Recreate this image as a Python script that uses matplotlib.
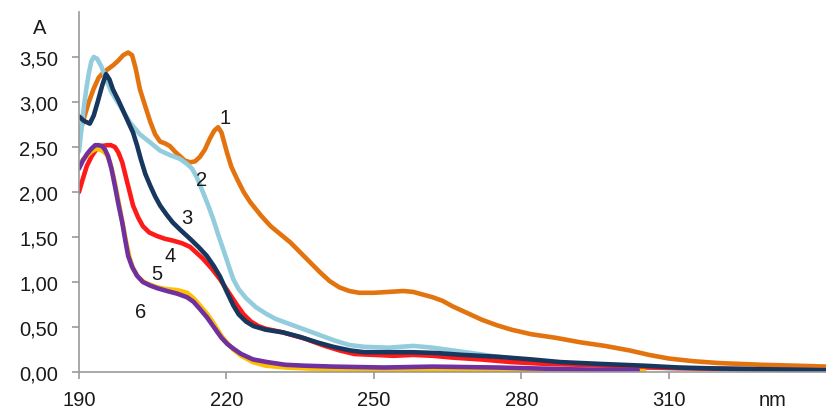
import matplotlib
matplotlib.use("Agg")
from matplotlib import pyplot as plt

# UV spectra, wavelength (nm) vs absorbance
nm1 = [190, 191, 192, 193, 194, 195, 196, 197, 198, 199, 200, 200.8, 201.5, 202.4, 203.5,
       204.5, 205.5, 206.5, 207.5, 208.5, 209.5, 210.5, 211.5, 212.6, 213.6, 214.6, 215.6,
       216.6, 217.5, 218.3, 219, 220.1, 221, 222.2, 223.5, 224.8, 227, 229, 231, 233, 235,
       237, 239, 241, 243, 245, 247, 250, 253, 256, 258, 260, 262, 264, 266, 268, 270, 272,
       275, 278, 282, 287, 292, 297, 302, 306, 310, 315, 320, 329, 336, 342]
a1 = [2.62, 2.82, 3.0, 3.15, 3.27, 3.33, 3.37, 3.41, 3.46, 3.52, 3.55, 3.52, 3.38, 3.14, 2.95,
      2.78, 2.64, 2.56, 2.54, 2.51, 2.45, 2.40, 2.35, 2.33, 2.34, 2.39, 2.47,
      2.59, 2.68, 2.72, 2.66, 2.44, 2.28, 2.14, 2.0, 1.89, 1.74, 1.62, 1.53, 1.44, 1.33,
      1.22, 1.11, 1.01, 0.94, 0.90, 0.88, 0.88, 0.89, 0.90, 0.89, 0.86, 0.83, 0.79, 0.73,
      0.68, 0.63, 0.58, 0.52, 0.47, 0.42, 0.38, 0.33, 0.29, 0.24, 0.19, 0.15, 0.12, 0.10,
      0.08, 0.07, 0.06]

nm2 = [190, 190.5, 191, 191.5, 192, 192.5, 193, 193.7, 194.5, 195.5, 196.5, 198.3, 200.4,
       202.4, 204.5, 206.5, 208.5, 210.5, 212, 213, 214, 215.2, 216.3, 217.3, 218.3, 219.3,
       220.4, 221.4, 222.5, 224, 226, 228, 230, 233, 236, 239, 242, 245, 248, 253, 258, 262,
       266, 270, 275, 280, 285, 292, 298, 305, 312, 325, 342]
a2 = [2.45, 2.7, 2.95, 3.15, 3.32, 3.45, 3.50, 3.48, 3.40, 3.26, 3.12, 2.96, 2.77,
      2.64, 2.55, 2.46, 2.41, 2.37, 2.31, 2.26, 2.16, 2.0, 1.85, 1.70, 1.53, 1.37,
      1.19, 1.03, 0.92, 0.82, 0.72, 0.65, 0.59, 0.53, 0.47, 0.41, 0.35, 0.30, 0.28, 0.27,
      0.29, 0.27, 0.24, 0.21, 0.17, 0.14, 0.11, 0.09, 0.07, 0.05, 0.04, 0.03, 0.02]

nm3 = [190, 191, 192.2, 193, 193.8, 194.7, 195.5, 196.2, 196.9, 198, 199, 200, 201, 201.8,
       202.6, 203.5, 204.5, 205.5, 206.5, 207.8, 209.1, 210.8, 212.6, 214.3, 216, 217.4,
       218.7, 220, 221.4, 222.5, 224, 225.5, 228, 231.5, 235, 238.4, 241.7, 245.1, 248, 252,
       258, 263, 268, 275, 282, 288, 296, 305, 312, 319, 330, 342]
a3 = [2.84, 2.79, 2.76, 2.85, 3.0, 3.18, 3.31, 3.25, 3.14, 3.02, 2.90, 2.78, 2.66, 2.52,
      2.36, 2.20, 2.07, 1.95, 1.85, 1.75, 1.66, 1.57, 1.48, 1.39, 1.29, 1.18,
      1.06, 0.90, 0.74, 0.64, 0.56, 0.51, 0.47, 0.44, 0.39, 0.33, 0.28, 0.24, 0.22, 0.22,
      0.22, 0.21, 0.19, 0.17, 0.14, 0.11, 0.09, 0.07, 0.05, 0.04, 0.03, 0.02]

nm4 = [190, 190.8, 191.6, 192.6, 193.6, 194.6, 195.7, 196.5, 197.3, 198, 198.8, 199.3,
       199.8, 200.4, 201, 202, 203, 204.3, 205.9, 207.5, 209.1, 211, 212.6, 214, 215.2, 217,
       218.7, 220.5, 222.2, 223.5, 225, 226.5, 228, 231.5, 236, 240, 243, 246, 250, 254, 258,
       262, 266, 271.6, 278, 285, 292, 298.6, 306, 315, 328, 342]
a4 = [2.0, 2.15, 2.29, 2.40, 2.48, 2.51, 2.52, 2.52, 2.50, 2.44, 2.33, 2.22,
      2.11, 1.98, 1.85, 1.72, 1.62, 1.55, 1.51, 1.48, 1.46, 1.43, 1.39, 1.32, 1.26, 1.15,
      1.03, 0.88, 0.74, 0.64, 0.56, 0.51, 0.48, 0.44, 0.37, 0.29, 0.24, 0.20, 0.19, 0.18, 0.19,
      0.18, 0.16, 0.14, 0.11, 0.09, 0.08, 0.07, 0.05, 0.04, 0.03, 0.02]

nm5 = [190, 190.8, 191.6, 192.5, 193.5, 194.3, 195, 195.7, 196.3, 197, 197.6, 198.3, 199,
       199.6, 200.3, 201, 202, 203.2, 204.5, 206, 207.9, 210, 212, 213.3, 214.6, 216, 217.3,
       218.2, 219, 220.2, 221.4, 223, 225.4, 228, 232, 240, 260, 280, 305]
a5 = [2.30, 2.36, 2.40, 2.45, 2.48, 2.47, 2.45, 2.41, 2.33, 2.18, 2.02, 1.82, 1.62,
      1.44, 1.27, 1.15, 1.06, 1.00, 0.97, 0.94, 0.92, 0.91, 0.88, 0.82, 0.74, 0.65, 0.55,
      0.47, 0.40, 0.32, 0.25, 0.18, 0.11, 0.07, 0.05, 0.03, 0.02, 0.02, 0.01]

nm6 = [190, 190.8, 191.6, 192.5, 193.3, 194, 194.7, 195.3, 195.9, 196.6, 197.3, 198, 198.8,
       199.4, 200, 200.8, 201.8, 203, 204.5, 206, 207.9, 210, 212, 213.3, 214.6, 216, 217.3,
       218.2, 219, 220.2, 221.4, 223, 225.4, 228.3, 232, 236, 241.7, 252, 262, 275, 290, 303.7]
a6 = [2.26, 2.35, 2.42, 2.48, 2.52, 2.52, 2.51, 2.47, 2.40, 2.26, 2.07, 1.87, 1.66,
      1.47, 1.29, 1.17, 1.07, 1.00, 0.96, 0.93, 0.90, 0.87, 0.83, 0.78, 0.70, 0.61, 0.51,
      0.44, 0.38, 0.31, 0.26, 0.20, 0.14, 0.11, 0.08, 0.07, 0.06, 0.05, 0.06, 0.05, 0.03, 0.02]

x_ticks = [190, 220, 250, 280, 310]
y_ticks = [0, 0.5, 1.0, 1.5, 2.0, 2.5, 3.0, 3.5]
y_labels = ['0,00', '0,50', '1,00', '1,50', '2,00', '2,50', '3,00', '3,50']

# curve number labels: (nm, A)
label_pos = {'1': (219.8, 2.83), '2': (215.0, 2.14), '3': (212.0, 1.72),
             '4': (208.5, 1.29), '5': (205.9, 1.09), '6': (202.6, 0.67)}

plt.rcParams['font.family'] = ['Liberation Sans', 'DejaVu Sans']
fs = 14.5

fig = plt.figure(figsize=(8.26, 4.10), dpi=100)
ax = fig.add_axes([79 / 826, 37 / 410, (826 - 79) / 826, 360 / 410])

series = [(nm1, a1, '#E3730F'), (nm2, a2, '#93CDDD'), (nm4, a4, '#FF1A1A'),
          (nm3, a3, '#17375E'), (nm5, a5, '#FFC000'), (nm6, a6, '#7030A0')]
for xs, ys, c in series:
    ax.plot(xs, ys, color=c, lw=3.3, solid_joinstyle='round', solid_capstyle='round')

for txt, (x, y) in label_pos.items():
    ax.text(x, y, txt, fontsize=fs, color='#1a1a1a', ha='center', va='center')

ax.set_xlim(190, 342)
ax.set_ylim(0, 4.0)
ax.set_xticks(x_ticks)
ax.set_xticklabels([str(v) for v in x_ticks])
ax.set_yticks(y_ticks)
ax.set_yticklabels(y_labels)

for s in ['top', 'right']:
    ax.spines[s].set_visible(False)
for s in ['left', 'bottom']:
    ax.spines[s].set_color('#9a9a9a')
    ax.spines[s].set_linewidth(1.2)
ax.tick_params(axis='both', colors='#9a9a9a', length=5, width=1.2, labelsize=fs,
               labelcolor='#1a1a1a')
ax.tick_params(axis='y', pad=10)
ax.tick_params(axis='x', pad=8)

fig.text(40 / 826, 1 - 28 / 410, 'A', fontsize=fs, color='#1a1a1a', ha='center', va='center')
fig.text(773 / 826, 1 - 406 / 410, 'nm', fontsize=fs, color='#1a1a1a', ha='center', va='baseline')

fig.savefig('out.png', dpi=100)
